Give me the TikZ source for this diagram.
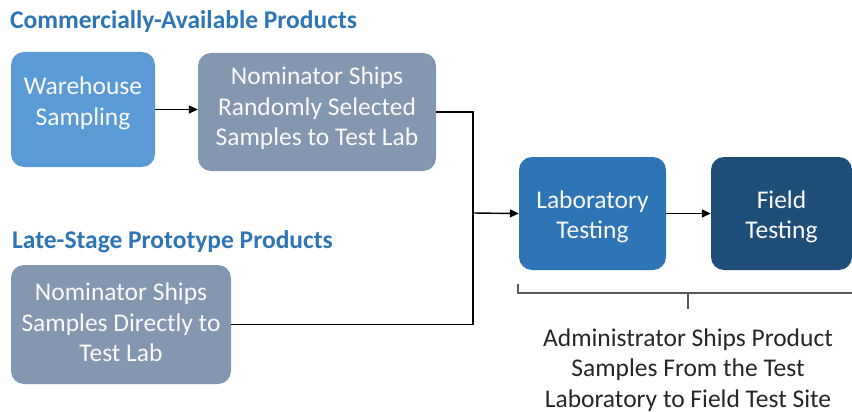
\documentclass[tikz,border=0pt]{standalone}
\usepackage{fontspec}
\setmainfont{Carlito}
\usetikzlibrary{arrows.meta}
\definecolor{hdblue}{HTML}{2E75B6}
\definecolor{lightblue}{HTML}{5B9BD5}
\definecolor{grayblue}{HTML}{8497B0}
\definecolor{midblue}{HTML}{2E75B6}
\definecolor{darkblue}{HTML}{1F4E79}
\definecolor{bracegray}{HTML}{595959}
\tikzset{
  box/.style={rounded corners=13pt, inner sep=0pt},
  boxtext/.style={text=white!95!gray, align=center, inner sep=0pt,
    font=\fontsize{25.5}{30.5}\selectfont},
  heading/.style={anchor=west, text=hdblue, font=\bfseries\fontsize{25.5}{28}\selectfont, inner sep=0pt},
  conn/.style={draw=black, line width=1.4pt},
  arr/.style={conn, -{Triangle[length=9pt,width=8pt]}},
}
\begin{document}
\begin{tikzpicture}[x=1pt,y=-1pt]
\useasboundingbox (0,0) rectangle (852,412);
\node[heading] (h1) at (10,22) {Commercially-Available Products};
\node[heading] (h2) at (12,242) {Late-Stage Prototype Products};

\node[box, fill=lightblue, minimum width=144pt, minimum height=115pt] (wh) at (83,109.5) {};
\node[boxtext] (wht) at (83,103.5) {Warehouse\\Sampling};
\node[box, fill=grayblue, minimum width=238pt, minimum height=118pt] (n1) at (317,112) {};
\node[boxtext] (n1t) at (317,108.5) {Nominator Ships\\Randomly Selected\\Samples to Test Lab};
\node[box, fill=grayblue, minimum width=220pt, minimum height=119pt] (n2) at (121,324.5) {};
\node[boxtext] (n2t) at (121,322.5) {Nominator Ships\\Samples Directly to\\Test Lab};
\node[box, fill=midblue, minimum width=147pt, minimum height=113pt] (lab) at (592.5,213.5) {};
\node[boxtext] (labt) at (592.5,217) {Laboratory\\Testing};
\node[box, fill=darkblue, minimum width=141pt, minimum height=113pt] (fld) at (781.5,213.5) {};
\node[boxtext] (fldt) at (781.5,217) {Field\\Testing};

\coordinate (j) at (473,213);
\draw[arr] (wh.east) -- (n1.west |- wh.east);
\draw[conn] (n1.east) -| (j);
\draw[conn] (n2.east) -| (j);
\draw[arr] (j) -- (lab.west);
\draw[arr] (lab.east) -- (fld.west);

\coordinate (bl) at (518,284);
\coordinate (br) at (852,293);
\coordinate (bm) at (688,309);
\draw[bracegray, line width=1.2pt] (bl) -- (bl |- br) -- (br);
\draw[bracegray, line width=1.2pt] (bm |- br) -- (bm);
\node[text=black!85, align=center, font=\fontsize{25.5}{30.5}\selectfont, inner sep=0pt] (adm) at (688,370) {Administrator Ships Product\\Samples From the Test\\Laboratory to Field Test Site};
\end{tikzpicture}
\end{document}
